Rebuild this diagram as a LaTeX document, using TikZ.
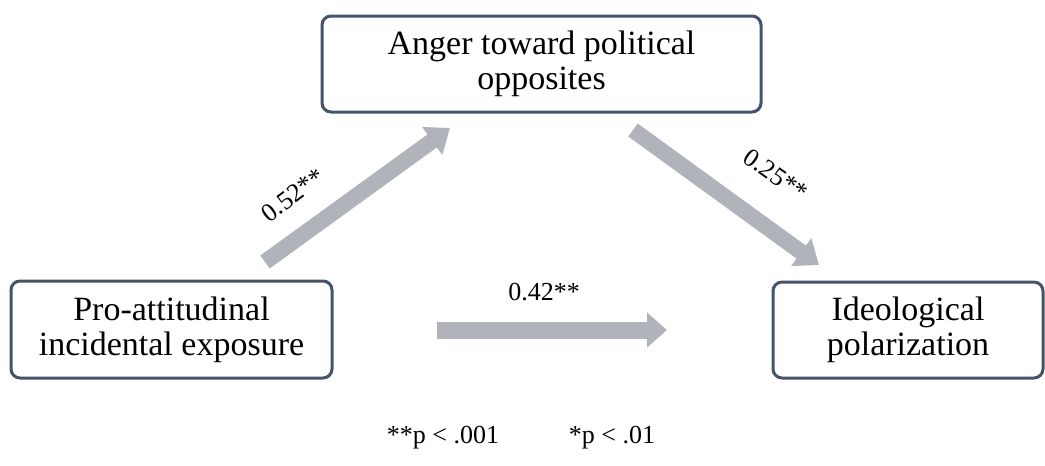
\documentclass[tikz,border=0pt]{standalone}
\usepackage{fontspec}
\setmainfont{Liberation Serif}
\usetikzlibrary{arrows.meta}
\definecolor{boxline}{RGB}{68,84,106}
\definecolor{arrowgray}{RGB}{176,179,186}
\begin{document}
\begin{tikzpicture}[x=1pt,y=-1pt,
  varbox/.style={draw=boxline,line width=3pt,rounded corners=9pt,fill=white,
    align=center,inner sep=0pt,font=\fontsize{34}{35}\selectfont},
  patharrow/.style={draw=arrowgray,line width=16pt,
    -{Triangle[length=22pt,width=33pt]}},
  coef/.style={font=\fontsize{26}{28}\selectfont,inner sep=0pt},
]
\useasboundingbox (0,0) rectangle (1045,466);
\node[varbox,minimum width=439pt,minimum height=96pt] (anger) at (541.5,64) {Anger toward political\\opposites};
\node[varbox,minimum width=321pt,minimum height=97pt] (pro) at (171.5,329.5) {Pro-attitudinal\\incidental exposure};
\node[varbox,minimum width=270pt,minimum height=96pt] (ideo) at (908,330) {Ideological\\polarization};

\coordinate (a1s) at (265,262);
\coordinate (a1e) at (450,128);
\coordinate (a2s) at (633,130);
\coordinate (a2e) at (819,265);
\coordinate (a3s) at (437,330);
\coordinate (a3e) at (667,330);
\draw[patharrow] (a1s) -- (a1e);
\draw[patharrow] (a2s) -- (a2e);
\draw[patharrow,line width=17pt,-{Triangle[length=20pt,width=34pt]}] (a3s) -- (a3e);

\node[coef,rotate=37] (c1) at (293,195) {0.52**};
\node[coef,rotate=-35] (c2) at (776,175) {0.25**};
\node[coef] (c3) at (544,292) {0.42**};
\node[coef] (f1) at (443,438) {**p < .001};
\node[coef] (f2) at (612,438) {*p < .01};
\end{tikzpicture}
\end{document}
